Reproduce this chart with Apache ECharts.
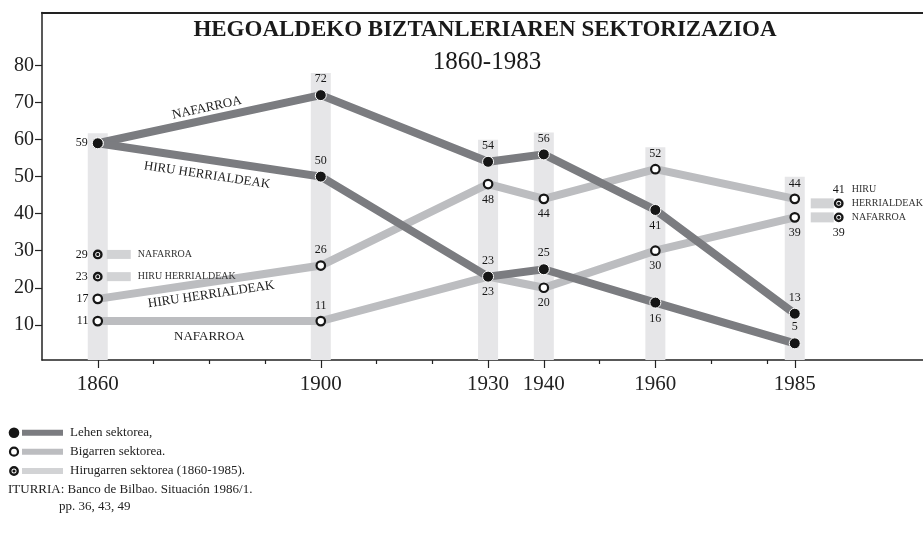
<!DOCTYPE html>
<html><head><meta charset="utf-8">
<script src="https://cdn.jsdelivr.net/npm/echarts@6/dist/echarts.min.js"></script>
<style>html,body{margin:0;padding:0;background:#fff}#c{width:923px;height:535px}</style>
</head><body><div id="c"></div>
<script>
// ---------- data ----------
const years = [1860, 1900, 1930, 1940, 1960, 1985];
const lehenNafarroa = [59, 72, 54, 56, 41, 13];
const lehenHiru = [59, 50, 23, 25, 16, 5];
const bigarrenHiru = [17, 26, 48, 44, 52, 44];
const bigarrenNafarroa = [11, 11, 23, 20, 30, 39];
const hirugarrenYears = [1860, 1985];
const hirugarrenNafarroa = [29, 39];
const hirugarrenHiru = [23, 41];
const yTickLabels = [10, 20, 30, 40, 50, 60, 70, 80];
const xTickLabels = [1860, 1900, 1930, 1940, 1960, 1985];
const xMinorTicks = [1870, 1880, 1890, 1910, 1920, 1950, 1970, 1980];
const regionNames = ['NAFARROA', 'HIRU HERRIALDEAK'];
const legendTexts = ['Lehen sektorea,', 'Bigarren sektorea.', 'Hirugarren sektorea (1860-1985).'];
const titleText = 'HEGOALDEKO BIZTANLERIAREN SEKTORIZAZIOA';
const subtitleText = '1860-1983';
const sourceLines = ['ITURRIA: Banco de Bilbao. Situación 1986/1.', 'pp. 36, 43, 49'];

// ---------- styling ----------
const posLehenNaf = ['left', 'top', 'top', 'top', 'bottom', 'top'];
const posLehenHiru = ['none', 'top', 'top', 'top', 'bottom', 'top'];
const posBigHiru = ['left', 'top', 'bottom', 'bottom', 'top', 'top'];
const posBigNaf = ['left', 'top', 'bottom', 'bottom', 'bottom', 'bottom'];

const FONT = '"Liberation Serif", "Times New Roman", serif';
const DARK = '#7b7c80', LIGHT = '#bcbdc0', TERT = '#d2d3d5', BAND = '#e6e6e8', INK = '#161616', TXT = '#222';
const Y_MIN = 0.5, Y_MAX = 94.3, X_MIN = 1850, X_MAX = 2008;

const chart = echarts.init(document.getElementById('c'), null, {renderer: 'canvas'});

function lineSeries(vals, color, z, name, labelPos, labelDist, labelSize) {
  return {
    type: 'line', z, silent: true, animation: false, showSymbol: false, symbol: 'none',
    data: years.map((y, i) => [y, vals[i]]),
    lineStyle: {width: 8, color, cap: 'butt', join: 'miter'},
    markLine: {
      silent: true, symbol: 'none', animation: false,
      lineStyle: {color: 'rgba(0,0,0,0)', width: 0},
      label: {show: true, position: labelPos, distance: labelDist, formatter: name,
              fontFamily: FONT, fontSize: labelSize, color: TXT},
      data: [[{coord: [years[0], vals[0]]}, {coord: [years[1], vals[1]]}]]
    }
  };
}

function markerSeries(vals, pos, filled) {
  return {
    type: 'scatter', z: 6, silent: true, animation: false,
    symbol: 'circle', symbolSize: filled ? 11 : 8.5,
    itemStyle: filled ? {color: INK, borderColor: '#fff', borderWidth: 1, opacity: 1}
                       : {color: '#fff', borderColor: INK, borderWidth: 2.2, opacity: 1},
    label: {show: true, formatter: p => String(p.value[1]), fontFamily: FONT, fontSize: 12, color: INK, distance: 4},
    data: years.map((y, i) => ({
      value: [y, vals[i]],
      label: pos[i] === 'none' ? {show: false} : {show: true, position: pos[i]}
    })),
    emphasis: {disabled: true}
  };
}

function bullseye(cx, cy) {
  return [
    {type: 'circle', shape: {cx, cy, r: 3.7}, style: {fill: '#fff', stroke: INK, lineWidth: 2.4}},
    {type: 'circle', shape: {cx, cy, r: 1.6}, style: {fill: INK}}
  ];
}

const bandData = years.map((y, i) => [y, Math.max(lehenNafarroa[i], lehenHiru[i], bigarrenHiru[i], bigarrenNafarroa[i])]);

const tertData = [];
hirugarrenYears.forEach((yr, j) => {
  tertData.push([yr, hirugarrenNafarroa[j], 0, j]);
  tertData.push([yr, hirugarrenHiru[j], 1, j]);
});

const option = {
  backgroundColor: '#fff',
  animation: false,
  grid: {left: 42, right: 0, top: 12.5, bottom: 175, containLabel: false},
  xAxis: [
    {type: 'value', min: X_MIN, max: X_MAX, position: 'bottom',
     axisLine: {show: true, onZero: false, lineStyle: {color: '#222', width: 1.5}},
     axisTick: {show: true, length: 8, customValues: xTickLabels, lineStyle: {color: '#222', width: 1.2}},
     axisLabel: {show: true, customValues: xTickLabels, formatter: v => String(v),
                 fontFamily: FONT, fontSize: 21, color: TXT, margin: 14},
     splitLine: {show: false}},
    {type: 'value', min: X_MIN, max: X_MAX, position: 'bottom',
     axisLine: {show: false, onZero: false},
     axisTick: {show: true, length: 4, customValues: xMinorTicks, lineStyle: {color: '#222', width: 1.2}},
     axisLabel: {show: false}, splitLine: {show: false}},
    {type: 'value', min: X_MIN, max: X_MAX, position: 'top',
     axisLine: {show: true, onZero: false, lineStyle: {color: '#222', width: 2}},
     axisTick: {show: false}, axisLabel: {show: false}, splitLine: {show: false}}
  ],
  yAxis: {
    type: 'value', min: Y_MIN, max: Y_MAX,
    axisLine: {show: true, onZero: false, lineStyle: {color: '#222', width: 1.5}},
    axisTick: {show: true, length: 7, customValues: yTickLabels, lineStyle: {color: '#222', width: 1.2}},
    axisLabel: {show: true, customValues: yTickLabels, formatter: v => String(v),
                fontFamily: FONT, fontSize: 20, color: TXT, margin: 8},
    splitLine: {show: false}
  },
  series: [
    {
      type: 'custom', z: 1, silent: true, animation: false,
      encode: {x: 0, y: 1},
      data: bandData,
      renderItem(params, api) {
        const x = api.value(0);
        const top = api.coord([x, api.value(1)]);
        const base = api.coord([x, Y_MIN]);
        const pad = params.dataIndex === 0 ? 10 : 22;
        return {type: 'rect', shape: {x: top[0] - 10, y: top[1] - pad, width: 20, height: base[1] - top[1] + pad},
                style: {fill: BAND}};
      }
    },
    lineSeries(bigarrenHiru, LIGHT, 3, regionNames[1], 'insideMiddleBottom', 6, 13),
    lineSeries(bigarrenNafarroa, LIGHT, 3, regionNames[0], 'insideMiddleBottom', 9, 13),
    lineSeries(lehenNafarroa, DARK, 4, regionNames[0], 'insideMiddleTop', 5, 13),
    lineSeries(lehenHiru, DARK, 4, regionNames[1], 'insideMiddleBottom', 9, 13),
    markerSeries(bigarrenHiru, posBigHiru, false),
    markerSeries(bigarrenNafarroa, posBigNaf, false),
    markerSeries(lehenNafarroa, posLehenNaf, true),
    markerSeries(lehenHiru, posLehenHiru, true),
    {
      type: 'custom', z: 7, silent: true, animation: false,
      encode: {x: 0, y: 1},
      data: tertData,
      renderItem(params, api) {
        const yr = api.value(0), v = api.value(1), r = api.value(2), j = api.value(3);
        const p = api.coord([yr, v]);
        let cx = p[0], cy = p[1];
        const nameFont = '10px ' + FONT;
        const valFont = '12px ' + FONT;
        const ch = [];
        if (j === 0) {
          ch.push({type: 'rect', shape: {x: cx + 9, y: cy - 4.5, width: 24, height: 9}, style: {fill: TERT}});
          ch.push({type: 'text', style: {text: regionNames[r], x: cx + 40, y: cy, font: nameFont, fill: '#333',
                   align: 'left', verticalAlign: 'middle'}});
          ch.push({type: 'text', style: {text: String(v), x: cx - 10, y: cy, font: valFont, fill: INK,
                   align: 'right', verticalAlign: 'middle'}});
        } else {
          const other = r === 0 ? hirugarrenHiru[j] : hirugarrenNafarroa[j];
          const po = api.coord([yr, other]);
          const isUpper = v > other;
          if (isUpper && po[1] - cy < 14) cy = po[1] - 14;
          cx += 44;
          ch.push({type: 'rect', shape: {x: cx - 28, y: cy - 5, width: 23, height: 10}, style: {fill: TERT}});
          ch.push({type: 'text', style: {text: regionNames[r], x: cx + 13, y: cy + 7, width: 80, overflow: 'break',
                   lineHeight: 14, font: nameFont, fill: '#333', align: 'left', verticalAlign: 'bottom'}});
          ch.push({type: 'text', style: {text: String(v), x: cx, y: isUpper ? cy - 14 : cy + 15, font: valFont, fill: INK,
                   align: 'center', verticalAlign: 'middle'}});
        }
        bullseye(cx, cy).forEach(e => ch.push(e));
        return {type: 'group', children: ch};
      }
    }
  ],
  graphic: {
    elements: [
      {type: 'text', x: 485, y: 30, style: {text: titleText, font: 'bold 23px ' + FONT, fill: '#1a1a1a', align: 'center', verticalAlign: 'middle'}},
      {type: 'text', x: 487, y: 62, style: {text: subtitleText, font: '25px ' + FONT, fill: '#1a1a1a', align: 'center', verticalAlign: 'middle'}},
      // legend row 1
      {type: 'rect', shape: {x: 22, y: 429.7, width: 41, height: 6}, style: {fill: DARK}},
      {type: 'circle', shape: {cx: 14, cy: 432.7, r: 5.3}, style: {fill: INK}},
      {type: 'text', x: 70, y: 432.7, style: {text: legendTexts[0], font: '13px ' + FONT, fill: TXT, verticalAlign: 'middle'}},
      // legend row 2
      {type: 'rect', shape: {x: 22, y: 448.7, width: 41, height: 6}, style: {fill: LIGHT}},
      {type: 'circle', shape: {cx: 14, cy: 451.7, r: 4}, style: {fill: '#fff', stroke: INK, lineWidth: 2.2}},
      {type: 'text', x: 70, y: 451.7, style: {text: legendTexts[1], font: '13px ' + FONT, fill: TXT, verticalAlign: 'middle'}},
      // legend row 3
      {type: 'rect', shape: {x: 22, y: 468, width: 41, height: 6}, style: {fill: TERT}},
      {type: 'circle', shape: {cx: 14, cy: 471, r: 3.7}, style: {fill: '#fff', stroke: INK, lineWidth: 2.4}},
      {type: 'circle', shape: {cx: 14, cy: 471, r: 1.6}, style: {fill: INK}},
      {type: 'text', x: 70, y: 471, style: {text: legendTexts[2], font: '13px ' + FONT, fill: TXT, verticalAlign: 'middle'}},
      // source
      {type: 'text', x: 8, y: 490, style: {text: sourceLines[0], font: '13px ' + FONT, fill: TXT, verticalAlign: 'middle'}},
      {type: 'text', x: 59, y: 507, style: {text: sourceLines[1], font: '13px ' + FONT, fill: TXT, verticalAlign: 'middle'}}
    ]
  }
};
chart.setOption(option);
</script>
</body></html>
